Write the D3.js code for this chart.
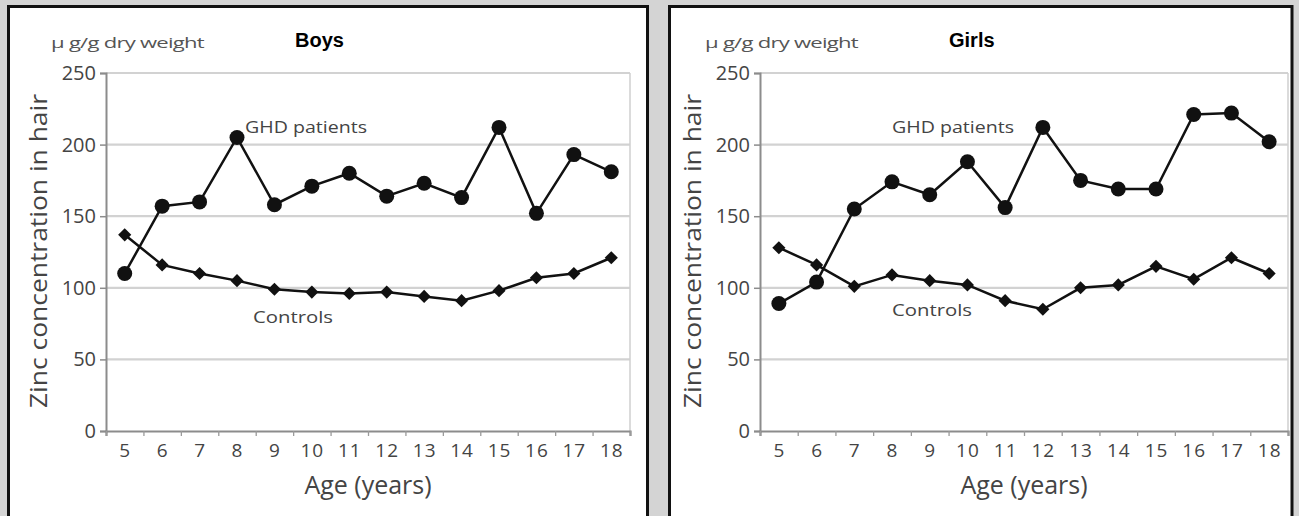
<!DOCTYPE html>
<html>
<head>
<meta charset="utf-8">
<script src="https://cdn.jsdelivr.net/npm/d3@7"></script>
<style>
  body { margin: 0; background: #d4d4d4; }
  svg { display: block; }
</style>
</head>
<body>
<svg id="chart" width="1299" height="516"></svg>
<script>
// ages on the x axis
var ages = [5, 6, 7, 8, 9, 10, 11, 12, 13, 14, 15, 16, 17, 18];
var yTicks = [0, 50, 100, 150, 200, 250];

// values (ug/g dry weight)
var boysGHD      = [110, 157, 160, 205, 158, 171, 180, 164, 173, 163, 212, 152, 193, 181];
var boysControls = [137, 116, 110, 105,  99,  97,  96,  97,  94,  91,  98, 107, 110, 121];
var girlsGHD      = [ 89, 104, 155, 174, 165, 188, 156, 212, 175, 169, 169, 221, 222, 202];
var girlsControls = [128, 116, 101, 109, 105, 102,  91,  85, 100, 102, 115, 106, 121, 110];

var svg = d3.select('#chart');
var textFont = "'Open Sans', 'Noto Sans', sans-serif";
var textColor = '#444';

// panel frames
var frames = [[8.5, 647.5], [669.5, 1292]];
for ( var f of frames ) {
  svg.append('rect')
    .attr('x', f[0]).attr('y', 6.5)
    .attr('width', f[1]-f[0]).attr('height', 530)
    .attr('fill', 'white').attr('stroke', '#111').attr('stroke-width', 3);
}

function drawPanel(left, right, title, ghd, controls, ann) {
  var g = svg.append('g');
  var x = d3.scaleLinear().domain([4.5, 18.5]).range([left, right]);
  var y = d3.scaleLinear().domain([0, 250]).range([431, 73]);

  // gridlines
  g.selectAll('line.grid')
    .data(yTicks.filter(v => v > 0)).enter().append('line')
    .attr('class', 'grid')
    .attr('x1', left).attr('x2', right)
    .attr('y1', d => y(d)).attr('y2', d => y(d))
    .attr('stroke', '#d2d2d2').attr('stroke-width', 2.2);
  // right edge of plot
  g.append('line')
    .attr('x1', right).attr('x2', right).attr('y1', y(250)).attr('y2', y(0))
    .attr('stroke', '#cfcfcf').attr('stroke-width', 1.5);

  // y axis
  var yAxis = g.append('g').attr('transform', 'translate(' + left + ',0)')
    .call(d3.axisLeft(y).tickValues(yTicks).tickSize(6).tickPadding(4));
  yAxis.select('.domain').attr('stroke', '#8c8c8c').attr('stroke-width', 2);
  yAxis.selectAll('.tick line').attr('stroke', '#8c8c8c').attr('stroke-width', 1.5);
  yAxis.selectAll('.tick text')
    .attr('font-family', textFont).attr('font-size', '20px').attr('fill', textColor);

  // x axis: marks between the ages, labels at the ages
  var xMarks = g.append('g').attr('transform', 'translate(0,431)')
    .call(d3.axisBottom(x).tickValues(d3.range(4.5, 19, 1)).tickSize(5).tickFormat(''));
  xMarks.select('.domain').attr('stroke', '#8c8c8c').attr('stroke-width', 2.2);
  xMarks.selectAll('.tick line').attr('stroke', '#9a9a9a').attr('stroke-width', 1.3);

  var xLabels = g.append('g').attr('transform', 'translate(0,431)')
    .call(d3.axisBottom(x).tickValues(ages).tickSize(0).tickPadding(13));
  xLabels.select('.domain').remove();
  xLabels.selectAll('.tick text')
    .attr('font-family', textFont).attr('font-size', '19px').attr('fill', textColor)
    .attr('letter-spacing', '1px');

  // axis titles
  g.append('text').text('Age (years)')
    .attr('x', (left+right)/2).attr('y', 494)
    .attr('text-anchor', 'middle')
    .attr('font-family', textFont).attr('font-size', '25px').attr('fill', textColor);
  g.append('text').text('Zinc concentration in hair')
    .attr('transform', 'translate(' + (left-59) + ',251) rotate(-90)')
    .attr('text-anchor', 'middle')
    .attr('textLength', 314).attr('lengthAdjust', 'spacingAndGlyphs')
    .attr('font-family', textFont).attr('font-size', '24px').attr('fill', textColor);
  g.append('text').text('\u03bc g/g dry weight')
    .attr('x', left-55).attr('y', 48)
    .attr('textLength', 153).attr('lengthAdjust', 'spacingAndGlyphs')
    .attr('font-family', textFont).attr('font-size', '15px').attr('fill', '#555')
    .attr('letter-spacing', '-0.5px');
  g.append('text').text(title)
    .attr('x', left+189).attr('y', 47)
    .attr('font-family', "'Liberation Sans', Arial, sans-serif")
    .attr('font-weight', 'bold').attr('font-size', '20px').attr('fill', '#000');

  // series lines
  var line = d3.line().x((d, i) => x(ages[i])).y(d => y(d));
  g.append('path').datum(controls).attr('d', line)
    .attr('fill', 'none').attr('stroke', '#111').attr('stroke-width', 2.5);
  g.append('path').datum(ghd).attr('d', line)
    .attr('fill', 'none').attr('stroke', '#111').attr('stroke-width', 2.5);

  // markers
  g.selectAll('path.diamond')
    .data(controls).enter().append('path')
    .attr('class', 'diamond')
    .attr('d', d3.symbol(d3.symbolDiamond2, 110))
    .attr('transform', (d, i) => 'translate(' + x(ages[i]) + ',' + y(d) + ')')
    .attr('fill', '#111');
  g.selectAll('circle.ghd')
    .data(ghd).enter().append('circle')
    .attr('class', 'ghd')
    .attr('cx', (d, i) => x(ages[i])).attr('cy', d => y(d)).attr('r', 7.5)
    .attr('fill', '#111');

  // series annotations
  g.append('text').text('GHD patients')
    .attr('x', ann.ghd[0]).attr('y', ann.ghd[1])
    .attr('textLength', 122).attr('lengthAdjust', 'spacingAndGlyphs')
    .attr('font-family', textFont).attr('font-size', '17px').attr('fill', textColor);
  g.append('text').text('Controls')
    .attr('x', ann.ctl[0]).attr('y', ann.ctl[1])
    .attr('textLength', 80).attr('lengthAdjust', 'spacingAndGlyphs')
    .attr('font-family', textFont).attr('font-size', '17px').attr('fill', textColor);
}

drawPanel(106, 630, 'Boys', boysGHD, boysControls, {ghd: [245, 133], ctl: [253, 323]});
drawPanel(760, 1288, 'Girls', girlsGHD, girlsControls, {ghd: [892, 133], ctl: [892, 316]});
</script>
</body>
</html>
